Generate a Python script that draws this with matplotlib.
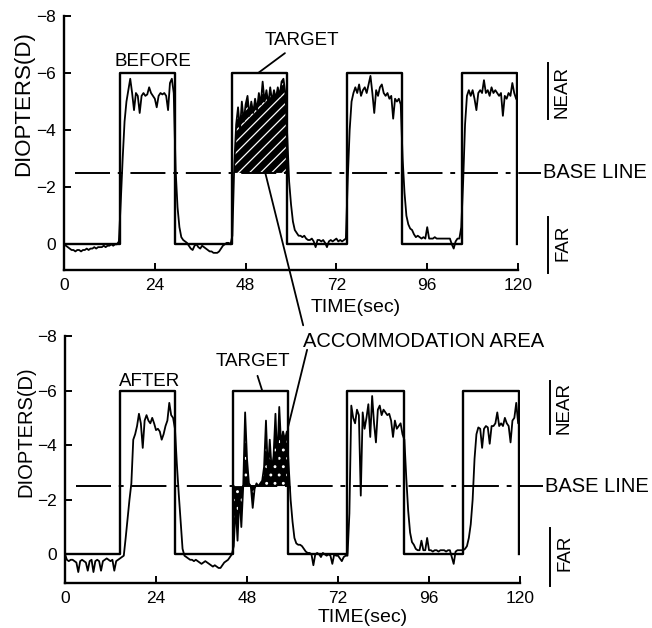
import numpy as np
import matplotlib.pyplot as plt
from matplotlib.patches import ConnectionPatch

plt.rcParams['font.family'] = ['Liberation Sans', 'DejaVu Sans']
plt.rcParams['hatch.linewidth'] = 0.9

# time axis, 0.5 s sampling (241 samples)
time = np.arange(0, 120.5, 0.5)

# accommodation response, BEFORE (diopters, 10 samples = 5 s per row)
before = np.array([
    0.0, 0.05, 0.1, 0.15, 0.2, 0.2, 0.25, 0.2, 0.2, 0.25,
    0.2, 0.2, 0.15, 0.2, 0.15, 0.15, 0.1, 0.15, 0.1, 0.1,
    0.1, 0.05, 0.1, 0.05, 0.05, 0.0, 0.05, 0.0, 0.0, -0.1,
    -1.5, -3.0, -4.3, -5.0, -5.4, -5.8, -5.3, -4.7, -5.3, -5.2,
    -4.6, -5.2, -5.3, -5.2, -5.25, -5.5, -5.3, -5.2, -5.1, -4.8,
    -5.2, -5.3, -5.25, -5.3, -5.2, -4.7, -5.65, -5.8, -5.3, -2.6,
    -1.3, -0.6, -0.25, -0.15, -0.1, -0.05, 0.05, 0.15, 0.2, 0.05,
    0.0, 0.1, 0.15, 0.05, 0.1, 0.15, 0.2, 0.25, 0.25, 0.3,
    0.3, 0.3, 0.25, 0.15, 0.05, 0.0, -0.05, -0.05, 0.0, -0.3,
    -2.8, -4.2, -4.8, -4.0, -5.0, -4.3, -4.9, -5.2, -4.5, -5.0,
    -4.6, -5.1, -4.7, -5.3, -4.9, -5.7, -5.0, -5.4, -4.9, -5.5,
    -5.0, -5.4, -5.1, -5.5, -5.2, -5.7, -5.8, -5.3, -3.8, -2.2,
    -1.4, -0.8, -0.5, -0.4, -0.3, -0.3, -0.25, -0.3, -0.2, -0.15,
    -0.15, -0.2, -0.1, 0.1, -0.15, -0.15, -0.1, -0.15, -0.05, 0.1,
    -0.1, -0.15, -0.1, -0.15, -0.2, -0.1, -0.15, -0.1, -0.15, -0.2,
    -2.3, -4.0, -5.0, -5.3, -5.5, -5.3, -5.6, -5.2, -5.4, -5.5,
    -5.3, -5.6, -5.9, -5.3, -4.6, -5.4, -5.2, -5.5, -5.6, -5.3,
    -5.2, -5.3, -5.1, -5.2, -4.4, -5.1, -5.0, -5.1, -4.9, -3.0,
    -1.8, -1.0, -0.7, -0.55, -0.5, -0.35, -0.25, -0.3, -0.25, -0.2,
    -0.25, -0.2, -0.6, -0.2, -0.2, -0.2, -0.25, -0.2, -0.2, -0.2,
    -0.2, -0.2, -0.2, -0.2, -0.2, 0.0, 0.15, -0.1, -0.2, -0.2,
    -0.6, -2.2, -4.2, -5.2, -5.4, -5.2, -5.4, -5.1, -4.7, -5.3,
    -5.4, -5.3, -5.75, -5.3, -5.4, -5.2, -5.5, -5.3, -5.4, -5.3,
    -5.2, -5.3, -4.5, -5.2, -5.1, -5.3, -5.2, -5.65, -5.3, -5.1,
    -5.0,
])

# accommodation response, AFTER
after = np.array([
    0.0, 0.2, 0.25, 0.2, 0.2, 0.25, 0.3, 0.65, 0.25, 0.2,
    0.25, 0.3, 0.6, 0.25, 0.2, 0.65, 0.25, 0.2, 0.25, 0.6,
    0.25, 0.2, 0.15, 0.2, 0.25, 0.2, 0.6, 0.25, 0.2, 0.15,
    0.1, 0.05, -0.6, -1.3, -2.0, -2.6, -4.2, -4.4, -4.7, -5.15,
    -4.8, -3.9, -4.9, -5.1, -4.9, -4.8, -5.0, -4.8, -4.55, -4.6,
    -4.5, -4.2, -4.4, -4.7, -4.9, -5.55, -5.1, -5.0, -4.6, -3.3,
    -2.2, -1.2, -0.2, 0.05, 0.1, 0.15, 0.2, 0.2, 0.25, 0.2,
    0.25, 0.3, 0.35, 0.3, 0.25, 0.3, 0.35, 0.4, 0.45, 0.4,
    0.45, 0.5, 0.5, 0.4, 0.3, 0.25, 0.2, 0.1, 0.0, -0.3,
    -1.8, -0.5, -2.2, -1.0, -2.5, -5.2, -3.5, -2.6, -2.5, -1.7,
    -2.4, -2.6, -2.5, -2.6, -2.7, -3.2, -4.9, -3.0, -4.2, -3.1,
    -3.6, -5.15, -3.4, -5.4, -4.0, -4.5, -4.2, -4.5, -3.2, -2.0,
    -1.2, -0.6, -0.4, -0.35, -0.35, -0.3, -0.2, -0.1, -0.05, -0.05,
    0.0, 0.4, 0.0, -0.05, 0.0, 0.1, -0.05, 0.0, 0.05, 0.0,
    0.05, 0.35, 0.0, 0.05, 0.05, 0.15, 0.25, 0.1, 0.05, 0.05,
    -1.5, -5.45, -5.0, -4.8, -5.3, -5.1, -2.15, -5.2, -4.6, -5.0,
    -5.5, -4.3, -5.8, -4.8, -4.1, -5.3, -5.45, -5.1, -5.3, -5.2,
    -5.1, -5.15, -4.9, -4.3, -4.9, -4.6, -4.7, -4.8, -4.4, -4.2,
    -2.8, -1.6, -0.8, -0.45, -0.35, -0.2, -0.15, -0.15, -0.5, -0.15,
    -0.15, -0.6, -0.15, -0.15, -0.1, -0.15, -0.15, -0.1, -0.15, -0.15,
    -0.15, -0.1, -0.15, -0.15, 0.1, 0.35, -0.1, -0.15, -0.15, -0.15,
    -0.15, -0.2, -0.3, -0.6, -1.1, -2.0, -3.5, -4.4, -4.65, -4.6,
    -3.9, -4.6, -4.7, -4.65, -4.05, -4.7, -4.7, -4.8, -5.2, -4.7,
    -4.8, -4.7, -5.0, -4.8, -4.7, -4.1, -4.9, -5.0, -5.55, -4.8,
    -5.1,
])

# target square wave (on / off times in s)
before_on = [14.8, 44.4, 74.9, 105.3]
before_off = [29.4, 59.0, 89.4, 119.8]
after_on = [14.5, 44.3, 74.4, 105.0]
after_off = [29.0, 58.8, 89.4, 119.8]
target_near = -6.0
target_far = 0.0
base_line = -2.5

xticks = [0, 24, 48, 72, 96, 120]
yticks = [-8, -6, -4, -2, 0]


def target_wave(on, off):
    tx, ty = [0], [target_far]
    for a, b in zip(on, off):
        tx += [a, a, b, b]
        ty += [target_far, target_near, target_near, target_far]
    return tx, ty


fig = plt.figure(figsize=(6.52, 6.28), dpi=100)
ax1 = fig.add_axes([0.0982, 0.5701, 0.6963, 0.4045])
ax2 = fig.add_axes([0.0997, 0.0717, 0.6979, 0.3933])

panels = [
    (ax1, before, before_on, before_off, 0.9, 'BEFORE', (23.5, -6.4)),
    (ax2, after, after_on, after_off, 1.05, 'AFTER', (22.3, -6.35)),
]

for ax, resp, on, off, ylow, name, name_xy in panels:
    ax.set_xlim(0, 120)
    ax.set_ylim(ylow, -8)
    ax.spines[['top', 'right']].set_visible(False)
    ax.spines[['left', 'bottom']].set_linewidth(1.7)
    ax.set_xticks(xticks)
    ax.set_yticks(yticks)
    ax.tick_params(direction='in', length=5, width=1.4, labelsize=12.5)
    ax.tick_params(axis='x', pad=6)
    ax.tick_params(axis='y', pad=6)

    tx, ty = target_wave(on, off)
    ax.plot(tx, ty, color='black', lw=1.7, solid_joinstyle='round')
    ax.plot(time, resp, color='black', lw=1.3)
    ax.plot([3, 126], [base_line, base_line], color='black', lw=1.4,
            dashes=(18, 4, 2.5, 4), clip_on=False)

    ax.text(name_xy[0], name_xy[1], name, fontsize=13.5, ha='center', va='center')
    ax.text(126.5, base_line, 'BASE LINE', fontsize=14.5, ha='left',
            va='center', clip_on=False)

    # NEAR / FAR markers
    ax.plot([128, 128], [-6.35, -4.4], color='black', lw=1.4, clip_on=False)
    ax.text(131.5, -5.35, 'NEAR', rotation=90, fontsize=13.5,
            ha='center', va='center', clip_on=False)
    ax.plot([128, 128], [-0.95, ylow + 0.1], color='black', lw=1.4, clip_on=False)
    ax.text(131.8, -0.05, 'FAR', rotation=90, fontsize=13.5,
            ha='center', va='center', clip_on=False)

# accommodation area fills
m1 = (time >= 44.5) & (time <= 59.5)
ax1.fill_between(time, before, base_line, where=m1 & (before <= base_line),
                 interpolate=True, facecolor='black', edgecolor='white',
                 hatch='///', linewidth=0)
ax2.fill_between(time, after, base_line, where=m1, interpolate=True,
                 facecolor='black', edgecolor='white', hatch='..', linewidth=0)

# axis labels
ax1.text(-0.088, 0.655, 'DIOPTERS(D)', transform=ax1.transAxes, rotation=90,
         fontsize=16, ha='center', va='center')
ax2.text(-0.086, 0.611, 'DIOPTERS(D)', transform=ax2.transAxes, rotation=90,
         fontsize=14.5, ha='center', va='center')
ax1.text(0.643, -0.148, 'TIME(sec)', transform=ax1.transAxes,
         fontsize=14, ha='center', va='center')
ax2.text(0.655, -0.14, 'TIME(sec)', transform=ax2.transAxes,
         fontsize=14, ha='center', va='center')

# TARGET labels with leaders
ax1.annotate('TARGET', xy=(51.3, -6.0), xytext=(63.0, -7.15), fontsize=13.5,
             ha='center', va='center',
             arrowprops=dict(arrowstyle='-', lw=1.3, color='black',
                             shrinkA=2, shrinkB=0))
ax2.annotate('TARGET', xy=(52.0, -6.0), xytext=(49.6, -7.05), fontsize=13.5,
             ha='center', va='center',
             arrowprops=dict(arrowstyle='-', lw=1.3, color='black',
                             shrinkA=2, shrinkB=0))

# ACCOMMODATION AREA with leaders into both panels
fig.text(0.465, 0.457, 'ACCOMMODATION AREA', fontsize=14.5, ha='left', va='center')
fig.add_artist(ConnectionPatch(xyA=(53.2, base_line), coordsA=ax1.transData,
                               xyB=(0.465, 0.482), coordsB=fig.transFigure,
                               color='black', lw=1.3))
fig.add_artist(ConnectionPatch(xyA=(0.471, 0.443), coordsA=fig.transFigure,
                               xyB=(58.8, -4.65), coordsB=ax2.transData,
                               color='black', lw=1.3))

fig.savefig('out.png', dpi=100)
